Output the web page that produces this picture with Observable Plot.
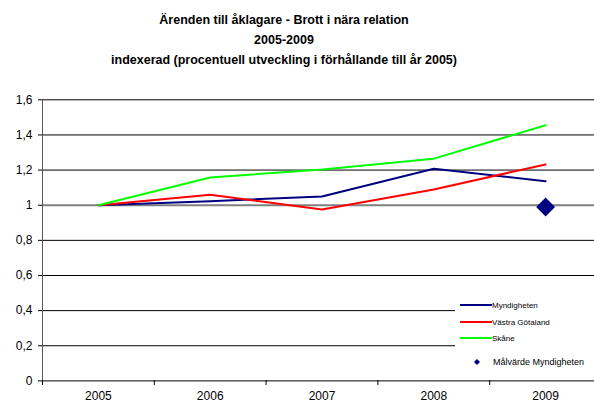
<!DOCTYPE html>
<html><head><meta charset="utf-8">
<script src="https://cdn.jsdelivr.net/npm/d3@7"></script>
<script src="https://cdn.jsdelivr.net/npm/@observablehq/plot@0.6"></script>
<style>
body{margin:0;background:#fff;font-family:"Liberation Sans",Arial,sans-serif;}
#wrap{position:relative;width:594px;height:403px;overflow:hidden;background:#fff;}
#title{position:absolute;left:0;top:10px;width:568px;text-align:center;font-weight:bold;font-size:12.5px;line-height:20px;color:#000;}
#chart{position:absolute;left:0;top:80px;}
#legend{position:absolute;left:455px;top:290px;width:139px;height:85px;background:#fff;}
</style></head><body>
<div id="wrap">
<div id="title">Ärenden till åklagare - Brott i nära relation<br>2005-2009<br>indexerad (procentuell utveckling i förhållande till år 2005)</div>
<div id="chart"></div>
<div id="legend"></div>
</div>
<script>
const years = [2005, 2006, 2007, 2008, 2009];
const myndigheten = [1, 1.023, 1.05, 1.207, 1.137];
const vastraGotaland = [1, 1.06, 0.975, 1.09, 1.232];
const skane = [1, 1.158, 1.203, 1.265, 1.455];
const malvardeYear = [2009];
const malvardeValue = [0.99];
const yTicks = [0, 0.2, 0.4, 0.6, 0.8, 1, 1.2, 1.4, 1.6];
const yTickLabels = ["0", "0,2", "0,4", "0,6", "0,8", "1", "1,2", "1,4", "1,6"];
const seriesNames = ["Myndigheten", "Västra Götaland", "Skåne"];
const seriesColors = ["#000080", "#ff0000", "#00ff00"];
const targetName = "Målvärde Myndigheten";

const seriesValues = [myndigheten, vastraGotaland, skane];
const rows = seriesNames.flatMap((name, i) => years.map((yr, j) => ({series: name, year: yr, value: seriesValues[i][j]})));
const targetRows = malvardeYear.map((yr, i) => ({year: yr, value: malvardeValue[i]}));
const boundaries = years.map(y => y - 0.5).concat([years[years.length - 1] + 0.5]);

const chart = Plot.plot({
  width: 594, height: 323,
  marginLeft: 42, marginRight: 0, marginTop: 19, marginBottom: 23,
  x: {domain: [boundaries[0], boundaries[boundaries.length - 1]], range: [42, 601], ticks: boundaries, tickFormat: () => "", tickSize: 5, label: null},
  y: {domain: [0, 1.6], range: [300.4, 19.3], ticks: yTicks, tickFormat: d => yTickLabels[yTicks.indexOf(d)], tickSize: 4, tickPadding: 6, label: null},
  color: {domain: seriesNames, range: seriesColors},
  style: {fontFamily: "'Liberation Sans', Arial, sans-serif", fontSize: "12px", color: "#000", background: "transparent"},
  marks: [
    Plot.ruleY(yTicks.filter(d => d !== 0 && d !== 1), {stroke: "#000", strokeWidth: 1}),
    Plot.ruleY([1], {stroke: "#808080", strokeWidth: 2}),
    Plot.ruleY([0], {stroke: "#000"}),
    Plot.ruleX([boundaries[0]], {stroke: "#555"}),
    Plot.line(rows, {x: "year", y: "value", z: "series", stroke: "series", strokeWidth: 2}),
    Plot.dot(targetRows, {x: "year", y: "value", symbol: "diamond2", r: 8.5, fill: "#000080", stroke: "none"}),
    Plot.text(years, {x: d => d, y: () => 0, dy: 15, text: d => String(d), fontSize: 12, fill: "#000"})
  ]
});
document.getElementById("chart").appendChild(chart);

// legend
const ns = "http://www.w3.org/2000/svg";
const lg = document.createElementNS(ns, "svg");
lg.setAttribute("width", 139); lg.setAttribute("height", 85);
const rowY = [15, 32, 48];
seriesNames.forEach((name, i) => {
  const l = document.createElementNS(ns, "line");
  l.setAttribute("x1", 5); l.setAttribute("x2", 37);
  l.setAttribute("y1", rowY[i]); l.setAttribute("y2", rowY[i]);
  l.setAttribute("stroke", seriesColors[i]); l.setAttribute("stroke-width", 2);
  lg.appendChild(l);
  const t = document.createElementNS(ns, "text");
  t.setAttribute("x", 37); t.setAttribute("y", rowY[i]); t.setAttribute("dy", "0.35em");
  t.setAttribute("font-size", 8); t.setAttribute("font-family", "'Liberation Sans', Arial, sans-serif");
  t.textContent = name;
  lg.appendChild(t);
});
const dm = document.createElementNS(ns, "path");
dm.setAttribute("d", "M22,69 L25,72 L22,75 L19,72 Z");
dm.setAttribute("fill", "#000080");
lg.appendChild(dm);
const tt = document.createElementNS(ns, "text");
tt.setAttribute("x", 38); tt.setAttribute("y", 72); tt.setAttribute("dy", "0.35em");
tt.setAttribute("font-size", 9); tt.setAttribute("font-family", "'Liberation Sans', Arial, sans-serif");
tt.textContent = targetName;
lg.appendChild(tt);
document.getElementById("legend").appendChild(lg);
</script>
</body></html>
